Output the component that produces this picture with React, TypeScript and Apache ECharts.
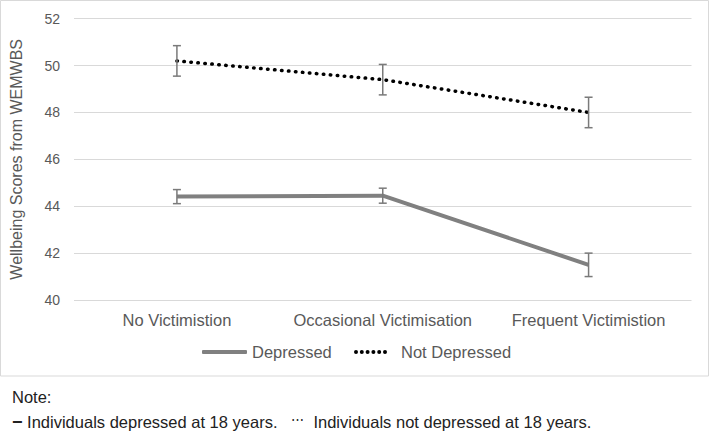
import React, { useEffect, useRef } from "react";
import * as echarts from "echarts";

const categories = ["No Victimistion", "Occasional Victimisation", "Frequent Victimistion"];
const depressed = [44.41, 44.45, 41.5];
const depressedErr = [0.3, 0.32, 0.5];
const notDepressed = [50.2, 49.4, 48.0];
const notDepressedErr = [0.65, 0.65, 0.65];
const yTicks = { min: 40, max: 52, interval: 2 };

const FONT = "'Liberation Sans', Arial, sans-serif";

const dotIcon =
  "path://" +
  [0, 5.8, 11.6, 17.4, 23.2, 29]
    .map((x) => `M${x},2a2,2 0 1,0 4,0a2,2 0 1,0 -4,0Z`)
    .join(" ") +
  " M42,0L42,4L42,0Z";

function errorSeries(name: string, values: number[], errs: number[]) {
  return {
    type: "custom",
    name,
    silent: true,
    z: 5,
    data: values.map((v, i) => [i, v - errs[i], v + errs[i]]),
    renderItem: (params: any, api: any) => {
      const x = api.value(0);
      const lo = api.coord([x, api.value(1)]);
      const hi = api.coord([x, api.value(2)]);
      const hw = 4;
      const style = { stroke: "#7a7a7a", lineWidth: 1.5 };
      return {
        type: "group",
        children: [
          { type: "line", shape: { x1: lo[0], y1: lo[1], x2: hi[0], y2: hi[1] }, style },
          { type: "line", shape: { x1: lo[0] - hw, y1: lo[1], x2: lo[0] + hw, y2: lo[1] }, style },
          { type: "line", shape: { x1: hi[0] - hw, y1: hi[1], x2: hi[0] + hw, y2: hi[1] }, style },
        ],
      };
    },
  };
}

const legendText = { fontSize: 16.5, color: "#595959", fontFamily: FONT };

export default function App() {
  const ref = useRef<HTMLDivElement>(null);
  useEffect(() => {
    const chart = echarts.init(ref.current!, null, { renderer: "svg" });
    chart.setOption({
      animation: false,
      textStyle: { fontFamily: FONT },
      grid: { left: 74, right: 18.5, top: 18.7, bottom: 134 },
      legend: [
        {
          left: 202,
          top: 343.5,
          padding: 0,
          itemWidth: 45,
          itemHeight: 4,
          textStyle: legendText,
          data: [{ name: "Depressed", icon: "roundRect" }],
        },
        {
          left: 354,
          top: 343.5,
          padding: 0,
          itemWidth: 42,
          itemHeight: 4,
          textStyle: legendText,
          data: [{ name: "Not Depressed", icon: dotIcon }],
        },
      ],
      xAxis: {
        type: "category",
        data: categories,
        axisLine: { show: false },
        axisTick: { show: false },
        axisLabel: { fontSize: 16.5, color: "#595959", margin: 11, fontFamily: FONT, interval: 0 },
      },
      yAxis: {
        type: "value",
        min: yTicks.min,
        max: yTicks.max,
        interval: yTicks.interval,
        name: "Wellbeing Scores from WEMWBS",
        nameLocation: "middle",
        nameGap: 50,
        nameTextStyle: { fontSize: 16, color: "#595959", fontFamily: FONT },
        axisLine: { show: false },
        axisTick: { show: false },
        axisLabel: { fontSize: 14, color: "#595959", margin: 14, fontFamily: FONT },
        splitLine: { lineStyle: { color: "#d9d9d9", width: 1 } },
      },
      series: [
        {
          type: "line",
          name: "Depressed",
          data: depressed,
          symbol: "none",
          lineStyle: { color: "#808080", width: 4 },
          itemStyle: { color: "#808080" },
          z: 3,
        },
        {
          type: "line",
          name: "Not Depressed",
          data: notDepressed,
          symbol: "none",
          lineStyle: { color: "#000000", width: 3.5, type: [0.5, 6.5], cap: "round" },
          itemStyle: { color: "#000000" },
          z: 3,
        },
        errorSeries("DepressedErr", depressed, depressedErr),
        errorSeries("NotDepressedErr", notDepressed, notDepressedErr),
      ],
      graphic: [
        {
          type: "rect",
          shape: { x: 0.5, y: 0.5, width: 708, height: 375.5 },
          style: { fill: "none", stroke: "#d9d9d9", lineWidth: 1 },
          silent: true,
        },
        {
          type: "text",
          left: 12,
          top: 388,
          style: { text: "Note:", fontSize: 16.5, fill: "#222", fontFamily: FONT },
        },
        {
          type: "text",
          left: 12,
          top: 413,
          style: {
            text: "{b|−} Individuals depressed at 18 years.   {s|⋯}  Individuals not depressed at 18 years.",
            fontSize: 16.5,
            fill: "#222",
            fontFamily: FONT,
            rich: {
              b: { fontSize: 18, fontWeight: "bold", fill: "#222", fontFamily: FONT },
              s: { fontSize: 13, fill: "#222", fontFamily: FONT, verticalAlign: "top" },
            },
          },
        },
      ],
    });
    return () => chart.dispose();
  }, []);
  return (
    <div
      ref={ref}
      style={{ position: "absolute", left: 0, top: 0, width: 710, height: 434, background: "#fff" }}
    />
  );
}
